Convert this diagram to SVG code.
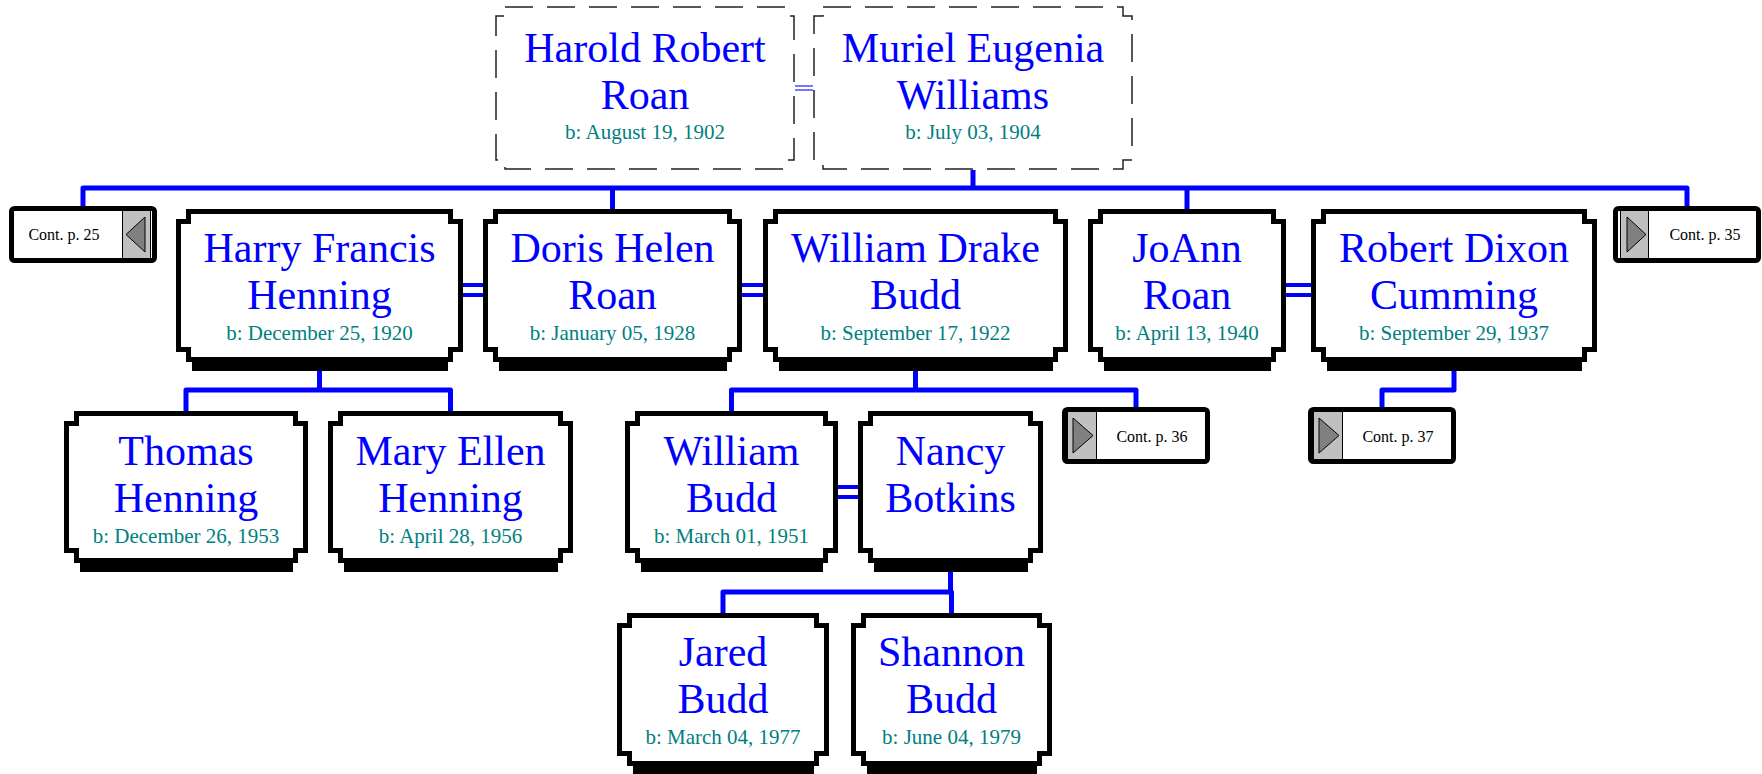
<svg xmlns="http://www.w3.org/2000/svg" width="1762" height="774" viewBox="0 0 1762 774">
<style>
.box{fill:#fff;stroke:#000;stroke-width:5}
.sh{fill:#000}
.cpl{fill:#fff;stroke:#222;stroke-width:1.5;stroke-dasharray:28 14}
.name{font-family:"Liberation Serif","Times New Roman",serif;font-size:42px;fill:#0000ff;text-anchor:middle}
.date{font-family:"Liberation Serif","Times New Roman",serif;font-size:21px;fill:#008080;text-anchor:middle}
.ct{font-family:"Liberation Serif","Times New Roman",serif;font-size:16px;fill:#000;text-anchor:middle}
.cbox{fill:#fff;stroke:#000;stroke-width:5}
.btn{fill:#c0c0c0;stroke:#000;stroke-width:1}
.tri{fill:#808080;stroke:#000;stroke-width:1}
.link{fill:none;stroke:#0000ff;stroke-width:5;stroke-linejoin:round}
.wed{fill:none;stroke:#0000ff;stroke-width:4}
.wed2{fill:none;stroke:#4a4aff;stroke-width:1.5}
</style>
<rect width="1762" height="774" fill="#fff"/>
<g id="connectors">
<path class="link" d="M83,206 V188 H1687 V206"/>
<path class="link" d="M612.5,188 V209 M1187,188 V209 M973,170 V188"/>
<path class="link" d="M319.5,371 V390 M186,411 V390 H450.5 V411"/>
<path class="link" d="M915.5,371 V390 M731.5,411 V390 H1136 V407"/>
<path class="link" d="M1454,371 V390 H1382 V407"/>
<path class="link" d="M950.5,572 V592 M723,613 V592 H951.5 V613"/>
<path class="wed" d="M463,285 H483 M463,295 H483"/>
<path class="wed" d="M742,285 H763 M742,295 H763"/>
<path class="wed" d="M1286,285 H1311 M1286,295 H1311"/>
<path class="wed" d="M838,487 H858 M838,497 H858"/>
<path class="wed2" d="M795,86 H813 M795,90 H813"/>
</g>
<g id="harold">
<path class="cpl" d="M505,7 H785 V16 H794 V160 H785 V169 H505 V160 H496 V16 H505 Z"/>
<text class="name" x="645" y="62">Harold Robert</text>
<text class="name" x="645" y="109">Roan</text>
<text class="date" x="645" y="139">b: August 19, 1902</text>
</g>
<g id="muriel">
<path class="cpl" d="M823,7 H1123 V16 H1132 V160 H1123 V169 H823 V160 H814 V16 H823 Z"/>
<text class="name" x="973" y="62">Muriel Eugenia</text>
<text class="name" x="973" y="109">Williams</text>
<text class="date" x="973" y="139">b: July 03, 1904</text>
</g>
<g id="cont25">
<rect class="cbox" x="11.5" y="208.5" width="143" height="52" rx="3"/>
<rect class="btn" x="122.5" y="210.5" width="28" height="48"/>
<polygon class="tri" points="126,234.5 145,217 145,252"/>
<text class="ct" x="64" y="240">Cont. p. 25</text>
</g>
<g id="cont35">
<rect class="cbox" x="1615.5" y="208.5" width="143" height="52" rx="3"/>
<rect class="btn" x="1620.5" y="210.5" width="28" height="48"/>
<polygon class="tri" points="1627,217 1627,252 1646,234.5"/>
<text class="ct" x="1705" y="240">Cont. p. 35</text>
</g>
<g id="cont36">
<rect class="cbox" x="1064.5" y="409.5" width="143" height="52" rx="3"/>
<rect class="btn" x="1067.5" y="411.5" width="29" height="48"/>
<polygon class="tri" points="1073,418 1073,453 1093,435.5"/>
<text class="ct" x="1152" y="442">Cont. p. 36</text>
</g>
<g id="cont37">
<rect class="cbox" x="1310.5" y="409.5" width="143" height="52" rx="3"/>
<rect class="btn" x="1313.5" y="411.5" width="29" height="48"/>
<polygon class="tri" points="1319,418 1319,453 1339,435.5"/>
<text class="ct" x="1398" y="442">Cont. p. 37</text>
</g>
<g id="harry">
<rect class="sh" x="192" y="359" width="256" height="12"/>
<path class="box" d="M188.5,211.5 H450.5 V221.5 H460.5 V349.5 H450.5 V359.5 H188.5 V349.5 H178.5 V221.5 H188.5 Z"/>
<text class="name" x="319.5" y="262">Harry Francis</text>
<text class="name" x="319.5" y="309">Henning</text>
<text class="date" x="319.5" y="340">b: December 25, 1920</text>
</g>
<g id="doris">
<rect class="sh" x="499" y="359" width="228" height="12"/>
<path class="box" d="M495.5,211.5 H729.5 V221.5 H739.5 V349.5 H729.5 V359.5 H495.5 V349.5 H485.5 V221.5 H495.5 Z"/>
<text class="name" x="612.5" y="262">Doris Helen</text>
<text class="name" x="612.5" y="309">Roan</text>
<text class="date" x="612.5" y="340">b: January 05, 1928</text>
</g>
<g id="william-drake">
<rect class="sh" x="779" y="359" width="274" height="12"/>
<path class="box" d="M775.5,211.5 H1055.5 V221.5 H1065.5 V349.5 H1055.5 V359.5 H775.5 V349.5 H765.5 V221.5 H775.5 Z"/>
<text class="name" x="915.5" y="262">William Drake</text>
<text class="name" x="915.5" y="309">Budd</text>
<text class="date" x="915.5" y="340">b: September 17, 1922</text>
</g>
<g id="joann">
<rect class="sh" x="1104" y="359" width="167" height="12"/>
<path class="box" d="M1100.5,211.5 H1273.5 V221.5 H1283.5 V349.5 H1273.5 V359.5 H1100.5 V349.5 H1090.5 V221.5 H1100.5 Z"/>
<text class="name" x="1187" y="262">JoAnn</text>
<text class="name" x="1187" y="309">Roan</text>
<text class="date" x="1187" y="340">b: April 13, 1940</text>
</g>
<g id="robert">
<rect class="sh" x="1327" y="359" width="255" height="12"/>
<path class="box" d="M1323.5,211.5 H1584.5 V221.5 H1594.5 V349.5 H1584.5 V359.5 H1323.5 V349.5 H1313.5 V221.5 H1323.5 Z"/>
<text class="name" x="1454" y="262">Robert Dixon</text>
<text class="name" x="1454" y="309">Cumming</text>
<text class="date" x="1454" y="340">b: September 29, 1937</text>
</g>
<g id="thomas">
<rect class="sh" x="80" y="560" width="213" height="12"/>
<path class="box" d="M76.5,413.5 H295.5 V423.5 H305.5 V550.5 H295.5 V560.5 H76.5 V550.5 H66.5 V423.5 H76.5 Z"/>
<text class="name" x="186" y="465">Thomas</text>
<text class="name" x="186" y="512">Henning</text>
<text class="date" x="186" y="543">b: December 26, 1953</text>
</g>
<g id="mary-ellen">
<rect class="sh" x="344" y="560" width="214" height="12"/>
<path class="box" d="M340.5,413.5 H560.5 V423.5 H570.5 V550.5 H560.5 V560.5 H340.5 V550.5 H330.5 V423.5 H340.5 Z"/>
<text class="name" x="450.5" y="465">Mary Ellen</text>
<text class="name" x="450.5" y="512">Henning</text>
<text class="date" x="450.5" y="543">b: April 28, 1956</text>
</g>
<g id="william-budd">
<rect class="sh" x="641" y="560" width="182" height="12"/>
<path class="box" d="M637.5,413.5 H825.5 V423.5 H835.5 V550.5 H825.5 V560.5 H637.5 V550.5 H627.5 V423.5 H637.5 Z"/>
<text class="name" x="731.5" y="465">William</text>
<text class="name" x="731.5" y="512">Budd</text>
<text class="date" x="731.5" y="543">b: March 01, 1951</text>
</g>
<g id="nancy">
<rect class="sh" x="874" y="560" width="154" height="12"/>
<path class="box" d="M870.5,413.5 H1030.5 V423.5 H1040.5 V550.5 H1030.5 V560.5 H870.5 V550.5 H860.5 V423.5 H870.5 Z"/>
<text class="name" x="950.5" y="465">Nancy</text>
<text class="name" x="950.5" y="512">Botkins</text>
</g>
<g id="jared">
<rect class="sh" x="633" y="763" width="181" height="12"/>
<path class="box" d="M629.5,615.5 H816.5 V625.5 H826.5 V753.5 H816.5 V763.5 H629.5 V753.5 H619.5 V625.5 H629.5 Z"/>
<text class="name" x="723" y="666">Jared</text>
<text class="name" x="723" y="713">Budd</text>
<text class="date" x="723" y="744">b: March 04, 1977</text>
</g>
<g id="shannon">
<rect class="sh" x="867" y="763" width="170" height="12"/>
<path class="box" d="M863.5,615.5 H1039.5 V625.5 H1049.5 V753.5 H1039.5 V763.5 H863.5 V753.5 H853.5 V625.5 H863.5 Z"/>
<text class="name" x="951.5" y="666">Shannon</text>
<text class="name" x="951.5" y="713">Budd</text>
<text class="date" x="951.5" y="744">b: June 04, 1979</text>
</g>
</svg>
